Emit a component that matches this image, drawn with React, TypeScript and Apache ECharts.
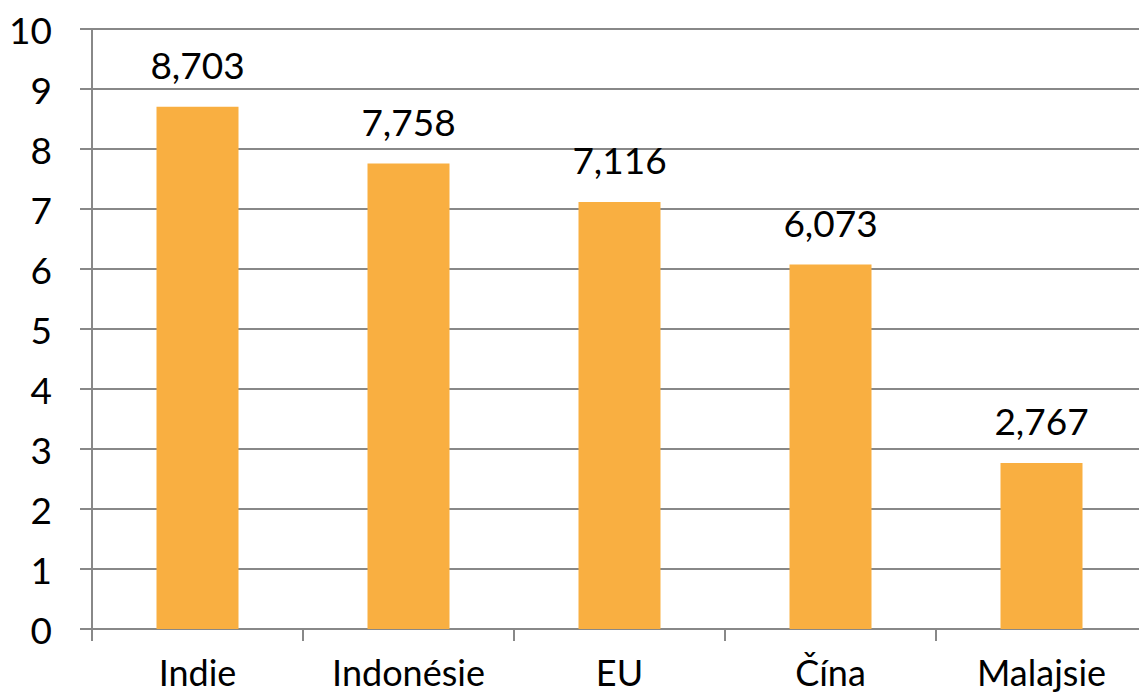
import React, { useEffect, useRef } from "react";
import * as echarts from "echarts";

const categories = ["Indie", "Indonésie", "EU", "Čína", "Malajsie"];
const values = [8.703, 7.758, 7.116, 6.073, 2.767];
const yMin = 0;
const yMax = 10;
const yInterval = 1;

const FONT = "Lato, 'Open Sans', sans-serif";
const GRAY = "#888888";

export default function App() {
  const ref = useRef<HTMLDivElement>(null);
  useEffect(() => {
    if (!ref.current) return;
    const chart = echarts.init(ref.current, null, { renderer: "svg" });
    chart.setOption({
      animation: false,
      backgroundColor: "#ffffff",
      grid: {
        left: 92,
        top: 29,
        width: 1055,
        height: 600,
        containLabel: false,
        outerBoundsMode: "none",
      },
      xAxis: {
        type: "category",
        data: categories,
        axisLine: { show: true, lineStyle: { color: GRAY, width: 2 } },
        axisTick: { show: true, length: 12, lineStyle: { color: GRAY, width: 2 } },
        axisLabel: {
          color: "#000",
          fontSize: 36,
          lineHeight: 36,
          fontFamily: FONT,
          margin: 25,
        },
        splitLine: { show: false },
      },
      yAxis: {
        type: "value",
        min: yMin,
        max: yMax,
        interval: yInterval,
        axisLine: { show: true, lineStyle: { color: GRAY, width: 2 } },
        axisTick: { show: true, length: 12, lineStyle: { color: GRAY, width: 2 } },
        axisLabel: { color: "#000", fontSize: 37, fontFamily: FONT, margin: 40 },
        splitLine: { show: true, lineStyle: { color: GRAY, width: 2 } },
      },
      series: [
        {
          type: "bar",
          data: values,
          barWidth: 82,
          itemStyle: { color: "#F9AF41" },
          label: {
            show: true,
            position: "top",
            distance: 24,
            color: "#000",
            fontSize: 37,
            fontFamily: FONT,
            formatter: (p: any) => Number(p.value).toFixed(3).replace(".", ","),
          },
        },
      ],
    });
    return () => chart.dispose();
  }, []);
  return (
    <div
      ref={ref}
      style={{ position: "fixed", left: 0, top: 0, width: 1139, height: 693 }}
    />
  );
}
